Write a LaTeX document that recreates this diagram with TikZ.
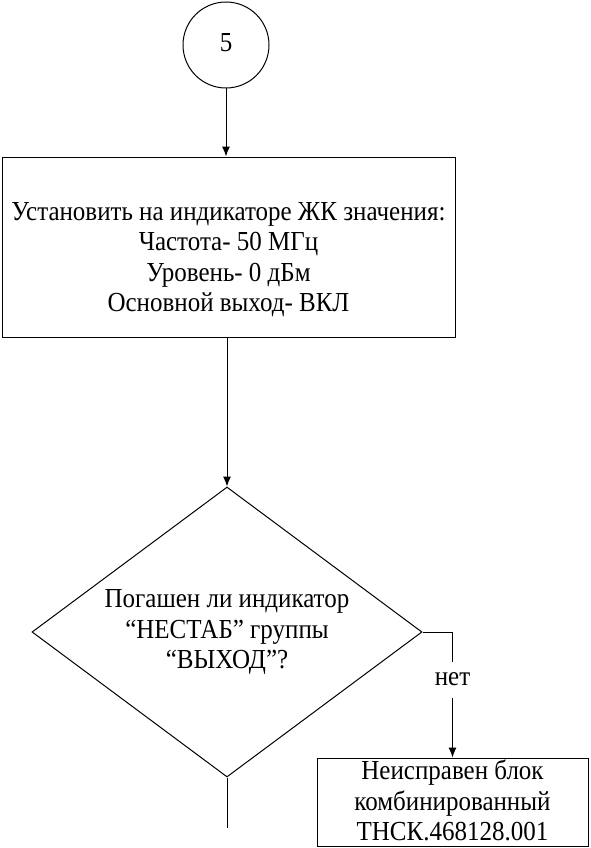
\documentclass[tikz,border=0pt]{standalone}
\usepackage{fontspec}
\usepackage{graphicx}
\setmainfont{Liberation Serif}
\usetikzlibrary{shapes.geometric,arrows.meta}
\newcommand\mytxt[1]{\scalebox{1}[1.1]{\begin{tabular}{@{}c@{}}#1\end{tabular}}}
\begin{document}
\begin{tikzpicture}[x=1pt,y=1pt,
  every node/.style={font=\fontsize{25}{27.3}\selectfont},
  line/.style={draw=black,line width=1pt},
  arr/.style={line,-{Latex[length=10pt,width=8pt]}},
  boxs/.style={draw=black,line width=1pt,rectangle,inner sep=0pt},
  txt/.style={align=center,inner sep=0pt}]
\useasboundingbox (0,0) rectangle (590,-848);
\node[draw=black,line width=1pt,circle,minimum size=86pt,inner sep=0pt] (c) at (226,-45) {\mytxt{5}};
\node[boxs,minimum width=453pt,minimum height=180pt] (b1) at (228.5,-247) {};
\node[txt] (b1t) at (228.5,-260) {\mytxt{Установить на индикаторе ЖК значения:\\Частота- 50 МГц\\Уровень- 0 дБм\\Основной выход- ВКЛ}};
\node[draw=black,line width=1pt,diamond,aspect=1.345,minimum width=390pt,minimum height=290pt,inner sep=0pt] (d) at (227,-632) {\mytxt{Погашен ли индикатор\\“НЕСТАБ” группы\\“ВЫХОД”?}};
\node[boxs,minimum width=271pt,minimum height=88pt] (b2) at (452.5,-802) {};
\node[txt] (b2t) at (452.5,-804) {\mytxt{Неисправен блок\\комбинированный\\ТНСК.468128.001}};
\coordinate (k) at (b2.north |- d.east);
\coordinate (e) at (227,-828);
\draw[arr] (c.south) -- (c.south |- b1.north);
\draw[arr] (d.north |- b1.south) -- (d.north);
\draw[line] (d.east) -- (k);
\draw[arr] (k) -- node[pos=0.38,fill=white,inner sep=3pt] (no) {\mytxt{нет}} (b2.north);
\draw[line] (d.south) -- (e);
\end{tikzpicture}
\end{document}
